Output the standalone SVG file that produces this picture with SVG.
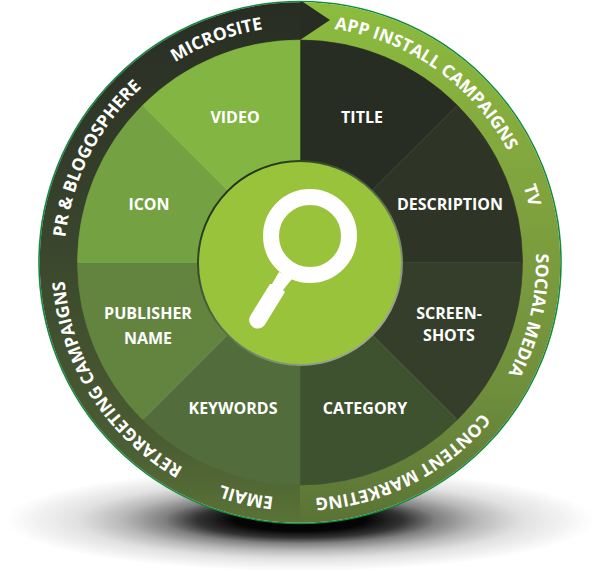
<svg xmlns="http://www.w3.org/2000/svg" xmlns:xlink="http://www.w3.org/1999/xlink" width="600" height="573" viewBox="0 0 600 573">
<style>
.lbl{font-family:"Open Sans","Liberation Sans",sans-serif;font-weight:700;font-size:16px;fill:#fff;text-anchor:middle}
.rt{font-family:"Open Sans","Liberation Sans",sans-serif;font-weight:700;font-size:17.5px;fill:#fff;text-anchor:middle}
.band{fill:none;stroke-width:39.5}
.w{stroke-width:.6}
</style>
<defs>
<radialGradient id="sh"><stop offset="0" stop-color="#000"/><stop offset=".22" stop-color="#000" stop-opacity=".98"/><stop offset=".35" stop-color="#000" stop-opacity=".8"/><stop offset=".46" stop-color="#000" stop-opacity=".5"/><stop offset=".6" stop-color="#000" stop-opacity=".28"/><stop offset=".75" stop-color="#000" stop-opacity=".12"/><stop offset="1" stop-color="#000" stop-opacity="0"/></radialGradient>
<linearGradient id="edge" x1="0.15" y1="0.1" x2="0.85" y2="0.9"><stop offset="0" stop-color="#1d3316"/><stop offset=".5" stop-color="#55704a"/><stop offset="1" stop-color="#a3a89c"/></linearGradient>
<linearGradient id="rr" gradientUnits="userSpaceOnUse" x1="0" y1="2" x2="0" y2="523"><stop offset="0" stop-color="#8cbc3e"/><stop offset=".25" stop-color="#84aa3e"/><stop offset=".5" stop-color="#7b9b3e"/><stop offset=".75" stop-color="#6f8e3c"/><stop offset="1" stop-color="#5a7336"/></linearGradient>
<linearGradient id="rl" gradientUnits="userSpaceOnUse" x1="0" y1="2" x2="0" y2="523"><stop offset="0" stop-color="#272d22"/><stop offset=".15" stop-color="#2d3427"/><stop offset=".5" stop-color="#3b482d"/><stop offset=".85" stop-color="#4b5d33"/><stop offset="1" stop-color="#5a7336"/></linearGradient>
<path id="tp" d="M300,26.5A236,236 0 1 1 299.99,26.5"/>
</defs>
<ellipse id="shadow" cx="300" cy="520" rx="295" ry="51" fill="url(#sh)"/>
<g id="ring">
<circle cx="300" cy="262.5" r="261" fill="#fff" stroke="#0f8a3f" stroke-width="1.6"/>
<path class="band" stroke="url(#rl)" d="M300,503A240.5,240.5 0 0 1 300,22"/>
<path class="band" stroke="url(#rr)" d="M300,22A240.5,240.5 0 0 1 300,503"/>
<polygon points="300,2 303,2 330,20 300,40" fill="#272d22"/>
</g>
<g id="ring-labels">
<text class="rt"><textPath xlink:href="#tp" href="#tp" startOffset="9.75%">APP INSTALL CAMPAIGNS</textPath></text>
<text class="rt"><textPath xlink:href="#tp" href="#tp" startOffset="20.5%">TV</textPath></text>
<text class="rt"><textPath xlink:href="#tp" href="#tp" startOffset="28.6%">SOCIAL MEDIA</textPath></text>
<text class="rt"><textPath xlink:href="#tp" href="#tp" startOffset="42.5%">CONTENT MARKETING</textPath></text>
<text class="rt"><textPath xlink:href="#tp" href="#tp" startOffset="53.6%">EMAIL</textPath></text>
<text class="rt"><textPath xlink:href="#tp" href="#tp" startOffset="66%">RETARGETING CAMPAIGNS</textPath></text>
<text class="rt"><textPath xlink:href="#tp" href="#tp" startOffset="82.5%">PR &amp; BLOGOSPHERE</textPath></text>
<text class="rt"><textPath xlink:href="#tp" href="#tp" startOffset="94.3%">MICROSITE</textPath></text>
</g>
<g id="title"><path class="w" d="M300,262.5V40A222.5,222.5 0 0 1 457.3,105.2Z" fill="#272d22" stroke="#272d22"/><text class="lbl" x="362" y="122.5">TITLE</text></g>
<g id="description"><path class="w" d="M300,262.5L457.3,105.2A222.5,222.5 0 0 1 522.5,262.5Z" fill="#2e3526" stroke="#2e3526"/><text class="lbl" x="450" y="209.5">DESCRIPTION</text></g>
<g id="screenshots"><path class="w" d="M300,262.5H522.5A222.5,222.5 0 0 1 457.3,419.8Z" fill="#343e2a" stroke="#343e2a"/><text class="lbl" x="449" y="318.5">SCREEN-</text><text class="lbl" x="449" y="340.5">SHOTS</text></g>
<g id="category"><path class="w" d="M300,262.5L457.3,419.8A222.5,222.5 0 0 1 300,485Z" fill="#3f5230" stroke="#3f5230"/><text class="lbl" x="365" y="413.5">CATEGORY</text></g>
<g id="keywords"><path class="w" d="M300,262.5V485A222.5,222.5 0 0 1 142.7,419.8Z" fill="#526c3b" stroke="#526c3b"/><text class="lbl" x="233" y="413.5">KEYWORDS</text></g>
<g id="publisher"><path class="w" d="M300,262.5L142.7,419.8A222.5,222.5 0 0 1 77.5,262.5Z" fill="#62843f" stroke="#62843f"/><text class="lbl" x="148" y="318.5">PUBLISHER</text><text class="lbl" x="148" y="343.5">NAME</text></g>
<g id="icon"><path class="w" d="M300,262.5H77.5A222.5,222.5 0 0 1 142.7,105.2Z" fill="#74a242" stroke="#74a242"/><text class="lbl" x="149" y="209.5">ICON</text></g>
<g id="video"><path class="w" d="M300,262.5L142.7,105.2A222.5,222.5 0 0 1 300,40Z" fill="#82b541" stroke="#82b541"/><text class="lbl" x="235" y="122.5">VIDEO</text></g>
<g id="centre">
<circle cx="300" cy="263" r="102" fill="#98c33b" stroke="url(#edge)" stroke-width="2"/>
<circle cx="310" cy="236" r="39" fill="none" stroke="#fff" stroke-width="16"/>
<path d="M279,272L292,279L283,290L285,292L265,324.5A8.5,8.5 0 0 1 250.5,315.5L270,284L272,284Z" fill="#fff"/>
</g>
</svg>
